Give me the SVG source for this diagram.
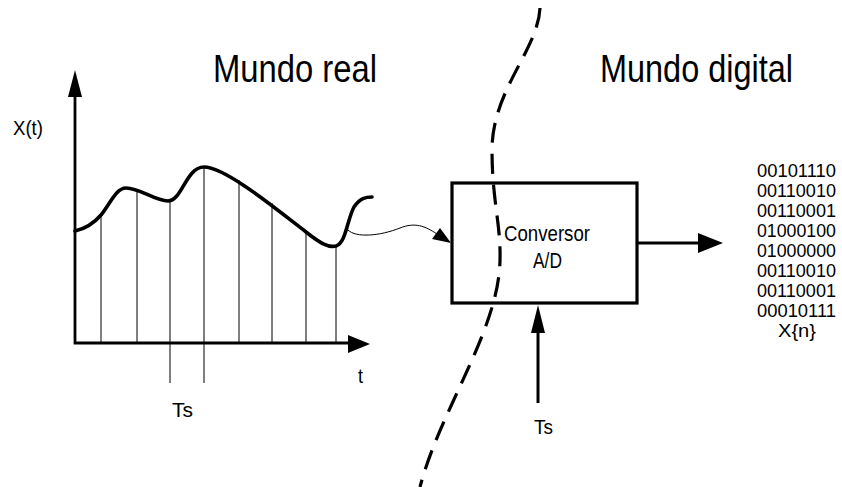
<svg xmlns="http://www.w3.org/2000/svg" width="842" height="487" viewBox="0 0 842 487">
  <style>
    text { font-family: "Liberation Sans", Arial, sans-serif; fill: #000; }
    .big { font-size: 39px; }
    .sm { font-size: 21px; }
    .bin { font-size: 18.5px; }
    .axis { stroke: #000; stroke-width: 2.8; fill: none; }
    .sample { stroke: #000; stroke-width: 1; fill: none; }
    .signal { stroke: #000; stroke-width: 3.6; fill: none; stroke-linecap: round; }
    .thick { stroke: #000; stroke-width: 3; fill: none; }
    .thin { stroke: #000; stroke-width: 1; fill: none; }
    .head { fill: #000; stroke: none; }
    .border { stroke: #000; stroke-width: 3.2; fill: none; stroke-dasharray: 20 11; }
  </style>

  <g id="titles">
    <text class="big" x="213" y="82" textLength="164" lengthAdjust="spacingAndGlyphs">Mundo real</text>
    <text class="big" x="600" y="82" textLength="193" lengthAdjust="spacingAndGlyphs">Mundo digital</text>
  </g>

  <g id="boundary">
    <path class="border" d="M540,8 C538,50 492,90 492,150 C492,200 501,225 500,260 C499,330 440,410 420,487"/>
  </g>

  <g id="signal-plot">
    <g id="samples">
      <line class="sample" x1="101" y1="215" x2="101" y2="343"/>
      <line class="sample" x1="137" y1="191" x2="137" y2="343"/>
      <line class="sample" x1="170" y1="200" x2="170" y2="383"/>
      <line class="sample" x1="204" y1="167" x2="204" y2="383"/>
      <line class="sample" x1="239" y1="180" x2="239" y2="343"/>
      <line class="sample" x1="272" y1="203" x2="272" y2="343"/>
      <line class="sample" x1="306" y1="232" x2="306" y2="343"/>
      <line class="sample" x1="336" y1="246" x2="336" y2="343"/>
    </g>
    <path class="axis" d="M75,95 L75,343 L350,343"/>
    <polygon class="head" points="75,70 68,97 82,97"/>
    <polygon class="head" points="370,344 348,335 348,353"/>
    <path class="signal" d="M75,231 C88,228 95,222 101,215 C110,204 116,188 126,188 C140,188 155,201 168,201 C182,201 186,167 204,167 C225,167 275,208 306,232 C320,243 328,248 336,246 C346,243 347,220 354,207 C360,198 366,197 372,197"/>
    <text class="sm" x="13" y="135" textLength="30" lengthAdjust="spacingAndGlyphs">X(t)</text>
    <text class="sm" x="358" y="383" textLength="5" lengthAdjust="spacingAndGlyphs">t</text>
    <text class="sm" x="172" y="417" textLength="21" lengthAdjust="spacingAndGlyphs">Ts</text>
  </g>

  <g id="converter">
    <rect class="thick" x="452" y="183" width="185" height="120" style="stroke-width:3.2"/>
    <text class="sm" x="504" y="241" textLength="86" lengthAdjust="spacingAndGlyphs" style="font-size:22px">Conversor</text>
    <text class="sm" x="533" y="268" textLength="29" lengthAdjust="spacingAndGlyphs" style="font-size:22px">A/D</text>
  </g>

  <g id="clock-label">
    <text class="sm" x="534" y="434" textLength="19" lengthAdjust="spacingAndGlyphs">Ts</text>
  </g>

  <g id="digital-output">
    <text class="bin" x="757" y="177" textLength="79" lengthAdjust="spacingAndGlyphs">00101110</text>
    <text class="bin" x="757" y="197" textLength="79" lengthAdjust="spacingAndGlyphs">00110010</text>
    <text class="bin" x="757" y="217" textLength="79" lengthAdjust="spacingAndGlyphs">00110001</text>
    <text class="bin" x="757" y="237" textLength="79" lengthAdjust="spacingAndGlyphs">01000100</text>
    <text class="bin" x="757" y="257" textLength="79" lengthAdjust="spacingAndGlyphs">01000000</text>
    <text class="bin" x="757" y="277" textLength="79" lengthAdjust="spacingAndGlyphs">00110010</text>
    <text class="bin" x="757" y="297" textLength="79" lengthAdjust="spacingAndGlyphs">00110001</text>
    <text class="bin" x="757" y="317" textLength="79" lengthAdjust="spacingAndGlyphs">00010111</text>
    <text class="bin" x="797" y="337" text-anchor="middle" textLength="38" lengthAdjust="spacingAndGlyphs">X{n}</text>
  </g>

  <g id="connectors">
    <path class="thin" d="M348,230 C356,238 380,236 400,228 C415,222 425,226 437,234"/>
    <polygon class="head" points="451,243 432,239 440,228"/>
    <line class="thick" x1="637" y1="243" x2="700" y2="243"/>
    <polygon class="head" points="723,243 698,233 698,253"/>
    <line class="thick" x1="538" y1="403" x2="538" y2="330"/>
    <polygon class="head" points="538,305 531,333 545,333"/>
  </g>
</svg>
